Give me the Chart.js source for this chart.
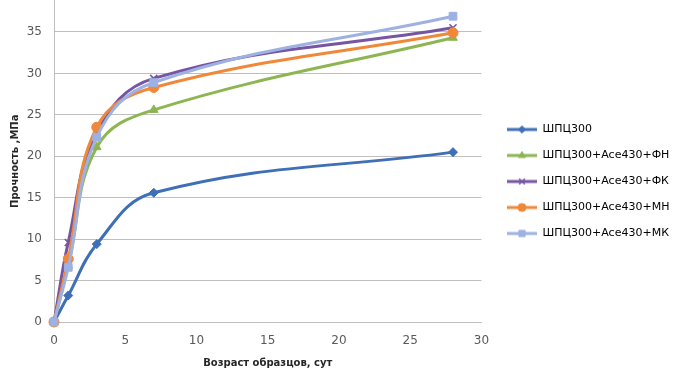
<!DOCTYPE html>
<html><head><meta charset="utf-8">
<script src="https://cdn.jsdelivr.net/npm/chart.js@4.4.1/dist/chart.umd.min.js"></script>
<style>html,body{margin:0;padding:0;background:#fff}#wrap{width:680px;height:379px;overflow:hidden}#c{display:block;margin-top:-6px}</style>
</head><body><div id="wrap"><canvas id="c" width="680" height="385"></canvas></div>
<script>
// ---- data ----
const days = [0, 1, 3, 7, 28];
const seriesNames = ['ШПЦ300', 'ШПЦ300+Ace430+ФН', 'ШПЦ300+Ace430+ФК', 'ШПЦ300+Ace430+МН', 'ШПЦ300+Ace430+МК'];
const shpc300   = [0, 3.2, 9.4, 15.6, 20.5];
const plusFN    = [0, 6.8, 21.1, 25.6, 34.3];
const plusFK    = [0, 9.6, 22.8, 29.4, 35.5];
const plusMN    = [0, 7.6, 23.5, 28.3, 34.9];
const plusMK    = [0, 6.6, 22.3, 28.9, 36.9];
const xTickValues = [0, 5, 10, 15, 20, 25, 30];
const yTickValues = [0, 5, 10, 15, 20, 25, 30, 35];
const xTitle = 'Возраст образцов, сут';
const yTitle = 'Прочность ,МПа';

// ---- styles ----
const seriesValues = [shpc300, plusFN, plusFK, plusMN, plusMK];
const colors = ['#3F6FB6', '#8DB552', '#7655A3', '#F0883A', '#9DB1E2'];
const styles = ['rectRot', 'triangle', 'crossRot', 'circle', 'rect'];
const radii = [4.5, 5, 5, 5, 5.5];

function legendIcon(i) {
  const cv = document.createElement('canvas');
  cv.width = 30; cv.height = 14;
  const g = cv.getContext('2d');
  g.strokeStyle = colors[i]; g.fillStyle = colors[i]; g.lineWidth = 3;
  g.beginPath(); g.moveTo(0, 7); g.lineTo(30, 7); g.stroke();
  g.lineWidth = styles[i] === 'crossRot' ? 1.5 : 1;
  Chart.helpers.drawPoint(g, {pointStyle: styles[i], radius: radii[i] * 0.8, rotation: 0, borderWidth: g.lineWidth}, 15, 7);
  return cv;
}

const datasets = seriesValues.map((vals, i) => ({
  label: seriesNames[i],
  data: days.map((d, k) => ({x: d, y: vals[k]})),
  borderColor: colors[i],
  backgroundColor: colors[i],
  borderWidth: 3,
  tension: 0.4,
  pointStyle: styles[i],
  pointRadius: radii[i],
  pointBorderWidth: styles[i] === 'crossRot' ? 1.5 : 1,
  clip: false,
  order: seriesValues.length - i
}));

const legendShift = {
  id: 'legendShift',
  afterLayout(chart) {
    const lg = chart.legend;
    if (!lg) return;
    const dx = 507 - (lg.left + lg.options.labels.padding);
    const dy = -5;
    lg.left += dx;
    lg.right = chart.width;
    lg.width = lg.right - lg.left;
    lg.top += dy; lg.bottom += dy;
  }
};

const yMaxVisible = 38.8;
const fontFam = "'DejaVu Sans', sans-serif";

new Chart(document.getElementById('c'), {
  type: 'line',
  data: {datasets},
  plugins: [legendShift],
  options: {
    responsive: false,
    devicePixelRatio: 1,
    animation: false,
    layout: {padding: {left: 0, right: 38, top: 0, bottom: 0}},
    plugins: {
      tooltip: {enabled: false},
      legend: {
        position: 'right',
        labels: {
          usePointStyle: true,
          pointStyleWidth: 30,
          padding: 15,
          color: '#404040',
          font: {family: fontFam, size: 11},
          generateLabels(chart) {
            return chart.data.datasets.map((ds, i) => ({
              text: ds.label,
              pointStyle: legendIcon(i),
              fillStyle: colors[i],
              strokeStyle: colors[i],
              lineWidth: 0,
              hidden: false,
              datasetIndex: i
            }));
          }
        }
      }
    },
    scales: {
      x: {
        type: 'linear',
        min: xTickValues[0],
        max: xTickValues[xTickValues.length - 1],
        afterBuildTicks(s) { s.ticks = xTickValues.map(v => ({value: v})); },
        afterFit(s) { s.height = 57; s.paddingLeft = 0; s.paddingRight = 0; },
        grid: {display: false, drawTicks: false},
        border: {display: true, color: '#BFBFBF', width: 1},
        ticks: {padding: 12, color: '#595959', font: {family: fontFam, size: 12}, maxRotation: 0},
        title: {display: true, text: xTitle, color: '#262626', font: {family: fontFam, size: 10, weight: 'bold'}, padding: {top: 0, bottom: 10}}
      },
      y: {
        type: 'linear',
        min: 0,
        max: yMaxVisible,
        afterBuildTicks(s) { s.ticks = yTickValues.map(v => ({value: v})); },
        afterFit(s) { s.width = 54; s.paddingTop = 0; s.paddingBottom = 0; },
        grid: {display: true, color: '#BFBFBF', drawTicks: false},
        border: {display: true, color: '#BFBFBF', width: 1},
        ticks: {padding: 12, color: '#595959', font: {family: fontFam, size: 12}},
        title: {display: true, text: yTitle, color: '#262626', font: {family: fontFam, size: 10, weight: 'bold'}, padding: {top: 9, bottom: 0}}
      }
    }
  }
});
</script>
</body></html>
